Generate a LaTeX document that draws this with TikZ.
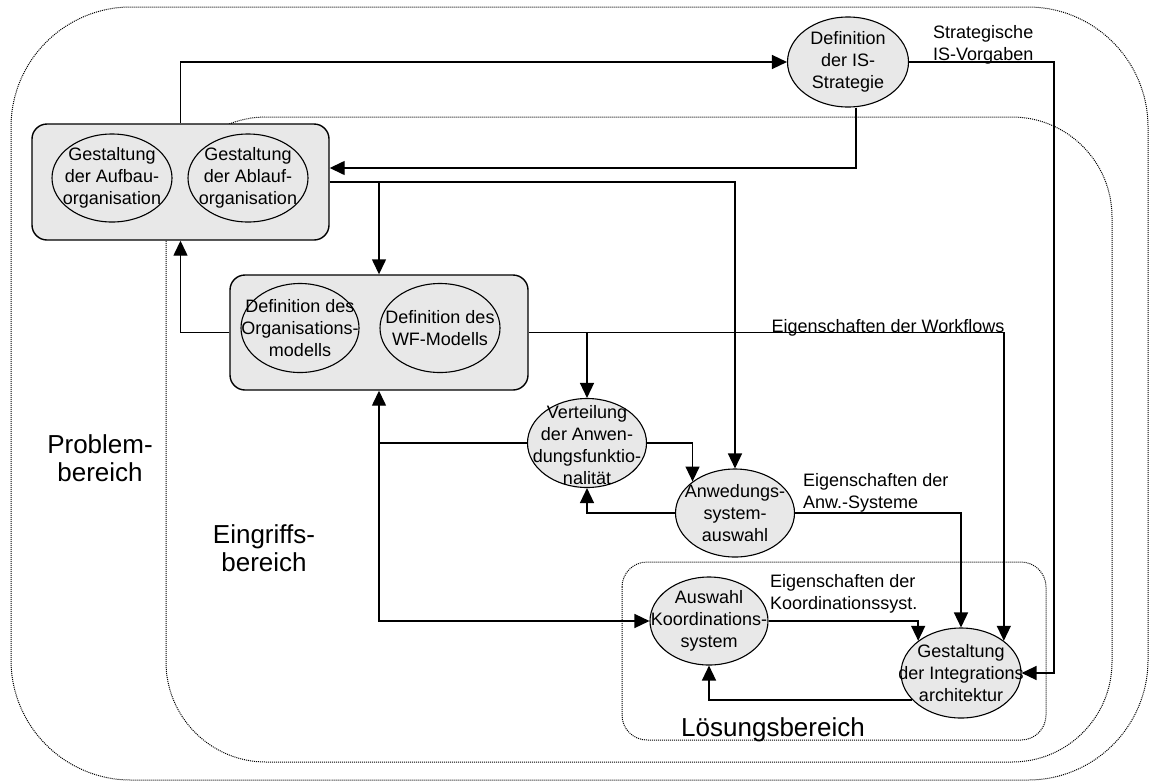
\documentclass[tikz,border=0pt]{standalone}
\usepackage{fontspec}
\setmainfont{Liberation Sans}
\usetikzlibrary{arrows.meta,shapes.geometric}
\definecolor{fillg}{RGB}{232,232,232}
\begin{document}
\begin{tikzpicture}[x=1pt,y=-1pt,
  zone/.style={draw=black, line width=1pt, dash pattern=on 1pt off 1pt},
  grpbox/.style={draw, line width=1.4pt, fill=fillg, rounded corners=15pt, inner sep=0pt},
  ell/.style={ellipse, draw, line width=1.1pt, fill=fillg, inner sep=0pt},
  ntext/.style={align=center, font=\fontsize{18}{22}\selectfont, inner sep=0pt},
  lbl/.style={align=left, font=\fontsize{18}{22}\selectfont, inner sep=0pt},
  big/.style={align=center, font=\fontsize{26}{28}\selectfont, inner sep=0pt},
  arr/.style={line width=1.4pt, -{Triangle[length=15pt,width=14pt]}}
]
\useasboundingbox (0,0) rectangle (1150,782);

% regions
\draw[zone, rounded corners=120pt] (11,7) rectangle (1148,780);
\draw[zone, rounded corners=100pt] (166,117) rectangle (1112,762);
\draw[zone, rounded corners=25pt] (622,562) rectangle (1046,740);

% group boxes
\node[grpbox, minimum width=297pt, minimum height=116pt] (box1) at (180.5,182) {};
\node[grpbox, minimum width=298pt, minimum height=115pt] (box2) at (379,332.5) {};

% ellipses
\node[ell, minimum width=120pt, minimum height=88pt] (A) at (112,178) {};
\node[ell, minimum width=120pt, minimum height=88pt] (B) at (248,178) {};
\node[ell, minimum width=118pt, minimum height=89pt] (C) at (300,328) {};
\node[ell, minimum width=120pt, minimum height=89pt] (D) at (440,328) {};
\node[ell, minimum width=121pt, minimum height=90pt] (IS) at (848,62) {};
\node[ell, minimum width=119pt, minimum height=89pt] (Vert) at (587,443) {};
\node[ell, minimum width=119pt, minimum height=88pt] (Anw) at (735,513) {};
\node[ell, minimum width=118pt, minimum height=88pt] (Koord) at (709,621) {};
\node[ell, minimum width=120pt, minimum height=90pt] (Integ) at (961,673) {};

% ellipse texts
\node[ntext] (At) at (A) {Gestaltung\\der Aufbau-\\organisation};
\node[ntext] (Bt) at (B) {Gestaltung\\der Ablauf-\\organisation};
\node[ntext] (Ct) at (C) {Definition des\\Organisations-\\modells};
\node[ntext] (Dt) at (D) {Definition des\\WF-Modells};
\node[ntext] (ISt) at (IS) {Definition\\der IS-\\Strategie};
\node[ntext] (Vertt) at ([yshift=-2pt]Vert.center) {Verteilung\\der Anwen-\\dungsfunktio-\\nalität};
\node[ntext] (Anwt) at (Anw) {Anwedungs-\\system-\\auswahl};
\node[ntext] (Koordt) at (Koord) {Auswahl\\Koordinations-\\system};
\node[ntext] (Integt) at (Integ) {Gestaltung\\der Integrations\\architektur};

% labels
\node[lbl, anchor=west] (l1) at (933,45) {Strategische\\IS-Vorgaben};
\node[lbl, anchor=base] (l2) at (888,332) {Eigenschaften der Workflows};
\node[lbl, anchor=west] (l3) at (803,493) {Eigenschaften der\\Anw.-Systeme};
\node[lbl, anchor=west] (l4) at (770,594) {Eigenschaften der\\Koordinationssyst.};

\node[big] (pb) at (100,458) {Problem-\\bereich};
\node[big] (eb) at (264,548) {Eingriffs-\\bereich};
\node[big, anchor=base] (lb) at (773,736) {Lösungsbereich};

% connectors
\coordinate (rail) at (1054,400);
\draw[arr] (box1.north) |- (IS.west);
\draw[arr] ([xshift=8pt]IS.south) |- ([yshift=14pt]box1.east);
\draw[arr] (IS.east) -- (IS.east -| rail) |- (Integ.east);
\draw[arr] (box1.east) -| (Anw.north);
\draw[arr] (box1.east -| box2.north) -- (box2.north);
\draw[arr] (box2.west) -| (box1.south);
\draw[arr] (box2.east) -| (Integ.north east);
\draw[arr] (box2.east -| Vert.north) -- (Vert.north);
\draw[arr] (Vert.east) -| (Anw.north west);
\draw[arr] (Anw.west) -| (Vert.south);
\draw[arr] (Anw.east) -| (Integ.north);
\draw[arr] (Vert.west) -| (box2.south);
\draw[arr] (box2.south |- Vert.west) |- (Koord.west);
\draw[arr] (Koord.east) -| (Integ.north west);
\draw[arr] (Integ.209) -| (Koord.south);
\end{tikzpicture}
\end{document}
